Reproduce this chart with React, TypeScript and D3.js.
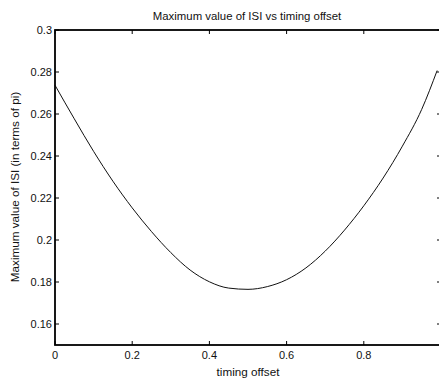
import { useEffect, useRef } from "react"
import * as d3 from "d3"

const offsets = [0, 0.05, 0.1, 0.15, 0.2, 0.25, 0.3, 0.35, 0.4, 0.45, 0.5, 0.55, 0.6, 0.65, 0.7, 0.75, 0.8, 0.85, 0.9, 0.95, 0.99]
const maxIsi = [0.2737, 0.2577, 0.2422, 0.228, 0.2153, 0.204, 0.194, 0.1857, 0.1801, 0.1771, 0.1765, 0.1778, 0.1811, 0.1867, 0.1947, 0.2047, 0.2163, 0.2295, 0.2447, 0.2622, 0.2807]
const xTicks = [0, 0.2, 0.4, 0.6, 0.8]
const yTicks = [0.16, 0.18, 0.2, 0.22, 0.24, 0.26, 0.28, 0.3]

const W = 439, H = 382
const FONT = "'Liberation Sans', Arial, sans-serif"

export default function App() {
  const ref = useRef<SVGSVGElement>(null)
  useEffect(() => {
    if (!ref.current) return
    const svg = d3.select(ref.current)
    svg.selectAll("*").remove()
    const x = d3.scaleLinear().domain([0, 1]).range([55, 441])
    const y = d3.scaleLinear().domain([0.15, 0.3]).range([345, 30])
    const fmt = (v: number) => String(+v.toFixed(2))

    svg.append("rect").attr("width", W).attr("height", H).attr("fill", "#fff")

    // curve
    const line = d3.line<number>().x((_, i) => x(offsets[i])).y(d => y(d)).curve(d3.curveMonotoneX)
    svg.append("path").attr("d", line(maxIsi)).attr("fill", "none").attr("stroke", "#111").attr("stroke-width", 1)

    // box
    const [x0, x1] = x.range(), [y0, y1] = y.range()
    svg.append("rect").attr("x", x0).attr("y", y1).attr("width", x1 - x0).attr("height", y0 - y1)
      .attr("fill", "none").attr("stroke", "#000").attr("stroke-width", 1.8)

    // x ticks, inward top and bottom
    xTicks.forEach(t => {
      svg.append("line").attr("x1", x(t)).attr("x2", x(t)).attr("y1", y0).attr("y2", y0 - 4).attr("stroke", "#000")
      svg.append("line").attr("x1", x(t)).attr("x2", x(t)).attr("y1", y1).attr("y2", y1 + 4).attr("stroke", "#000")
      svg.append("text").attr("x", x(t)).attr("y", y0 + 14).attr("text-anchor", "middle")
        .style("font-family", FONT).style("font-size", "11px").attr("fill", "#111").text(fmt(t))
    })
    // y ticks, inward left and right
    yTicks.forEach(t => {
      svg.append("line").attr("x1", x0).attr("x2", x0 + 4).attr("y1", y(t)).attr("y2", y(t)).attr("stroke", "#000")
      svg.append("line").attr("x1", x1).attr("x2", x1 - 4).attr("y1", y(t)).attr("y2", y(t)).attr("stroke", "#000")
      svg.append("text").attr("x", x0 - 3).attr("y", y(t) + 4).attr("text-anchor", "end")
        .style("font-family", FONT).style("font-size", "11px").attr("fill", "#111").text(fmt(t))
    })

    svg.append("text").attr("x", 247).attr("y", 20).attr("text-anchor", "middle")
      .style("font-family", FONT).style("font-size", "11.4px").attr("fill", "#111")
      .text("Maximum value of ISI vs timing offset")
    svg.append("text").attr("x", 248).attr("y", 376).attr("text-anchor", "middle")
      .style("font-family", FONT).style("font-size", "11.7px").attr("fill", "#111")
      .text("timing offset")
    svg.append("text").attr("transform", "translate(19,187) rotate(-90)").attr("text-anchor", "middle")
      .style("font-family", FONT).style("font-size", "11.7px").attr("fill", "#111")
      .text("Maximum value of ISI (in terms of pi)")
  }, [])
  return <svg ref={ref} width={W} height={H} style={{ position: "absolute", left: 0, top: 0, display: "block" }} />
}
